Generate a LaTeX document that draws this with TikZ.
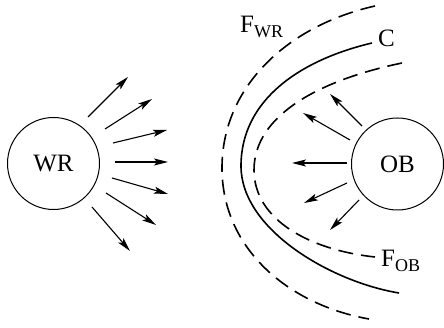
\documentclass[tikz,border=0pt]{standalone}
\usepackage{fontspec}
\setmainfont{Liberation Serif}
\usetikzlibrary{arrows.meta}
\tikzset{
  body/.style={draw, circle, line width=1pt, inner sep=0pt, minimum size=92pt,
    font=\fontsize{25}{28}\selectfont},
  ray/.style={line width=1.1pt, -{Stealth[length=14pt,width=7pt,inset=3pt]}},
  front/.style={line width=1.6pt, dash pattern=on 15pt off 8pt},
  contact/.style={line width=1.6pt},
  lbl/.style={anchor=base west, inner sep=0pt, font=\fontsize{25}{28}\selectfont}
}
\newcommand{\mysub}[1]{\raisebox{-5pt}{\fontsize{18}{20}\selectfont #1}}
\begin{document}
\begin{tikzpicture}[x=1pt,y=-1pt]
\useasboundingbox (0,0) rectangle (444,328);
\node[body] (WR) at (53.5,163.5) {WR};
\node[body] (OB) at (397.5,164) {OB};
% rays from WR
\coordinate (w1s) at (88,117);  \coordinate (w1e) at (128,77);
\coordinate (w2s) at (105,129); \coordinate (w2e) at (152,99);
\coordinate (w3s) at (113,143); \coordinate (w3e) at (167,130);
\coordinate (w4s) at (115,162); \coordinate (w4e) at (168,162);
\coordinate (w5s) at (112,178); \coordinate (w5e) at (168,194);
\coordinate (w6s) at (106,193); \coordinate (w6e) at (156,225);
\coordinate (w7s) at (92,207);  \coordinate (w7e) at (130,251);
\foreach \i in {1,...,7} \draw[ray] (w\i s) -- (w\i e);
% rays from OB
\coordinate (o1s) at (362,126); \coordinate (o1e) at (330,94);
\coordinate (o2s) at (350,140); \coordinate (o2e) at (303,113);
\coordinate (o3s) at (347,163); \coordinate (o3e) at (292,163);
\coordinate (o4s) at (347,183); \coordinate (o4e) at (304,203);
\coordinate (o5s) at (359,200); \coordinate (o5e) at (330,230);
\foreach \i in {1,...,5} \draw[ray] (o\i s) -- (o\i e);
% contact surface C
\coordinate (cA) at (372,43); \coordinate (cV) at (241,166); \coordinate (cB) at (399,293);
\draw[contact] (cA) .. controls (300,60) and (241,100) .. (cV)
                    .. controls (241,230) and (332,282) .. (cB);
% shock front F_WR
\coordinate (fA) at (375,6); \coordinate (fV) at (222,168); \coordinate (fB) at (369,319);
\draw[front] (fA) .. controls (290,25) and (222,85) .. (fV)
                  .. controls (222,250) and (290,305) .. (fB);
% shock front F_OB
\coordinate (gA) at (402,63); \coordinate (gV) at (254,170); \coordinate (gB) at (375,257);
\draw[front] (gA) .. controls (320,80) and (254,115) .. (gV)
                  .. controls (254,220) and (310,250) .. (gB);
\node[lbl] (FWR) at (240,33) {F\mysub{WR}};
\node[lbl] (C) at (378,46.5) {C};
\node[lbl] (FOB) at (381,267) {F\mysub{OB}};
\end{tikzpicture}
\end{document}
